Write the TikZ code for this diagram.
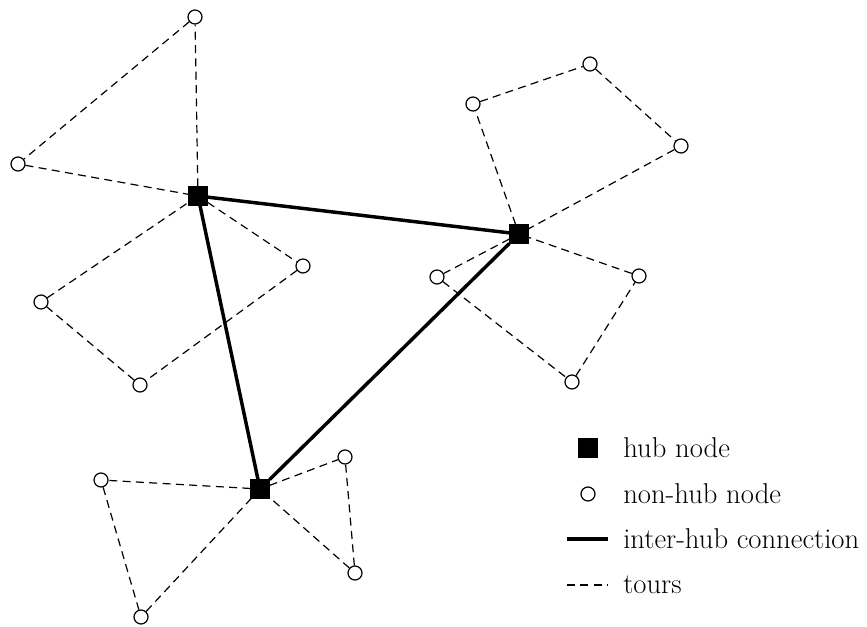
\documentclass[tikz,border=0pt]{standalone}
\usepackage{fontspec}
\setmainfont{Latin Modern Roman}
\begin{document}
\begin{tikzpicture}[x=0.75pt,y=-0.75pt,
  hub/.style={rectangle,fill=black,draw=black,minimum size=14pt,inner sep=0pt},
  nh/.style={circle,fill=white,draw=black,line width=0.9pt,minimum size=10.5pt,inner sep=0pt},
  tour/.style={dashed,dash pattern=on 6pt off 4pt,line width=0.9pt},
  inter/.style={line width=2.6pt},
  lbl/.style={anchor=west,font=\fontsize{21.5}{24}\selectfont,inner sep=0pt}]
\useasboundingbox (0,0) rectangle (867,627);
% hubs
\node[hub] (H1) at (198,196) {};
\node[hub] (H2) at (519,234) {};
\node[hub] (H3) at (260,489) {};
% non-hub nodes
\node[nh] (a1) at (195,17) {};
\node[nh] (a2) at (18,164) {};
\node[nh] (b1) at (303,266) {};
\node[nh] (b2) at (140,385) {};
\node[nh] (b3) at (41,302) {};
\node[nh] (c1) at (473,104) {};
\node[nh] (c2) at (590,64) {};
\node[nh] (c3) at (681,146) {};
\node[nh] (d1) at (437,277) {};
\node[nh] (d2) at (572,382) {};
\node[nh] (d3) at (639,276) {};
\node[nh] (e1) at (345,457) {};
\node[nh] (e2) at (355,573) {};
\node[nh] (f1) at (101,480) {};
\node[nh] (f2) at (141,617) {};
% tours
\draw[tour] (H1) -- (a1) -- (a2) -- (H1);
\draw[tour] (H1) -- (b1) -- (b2) -- (b3) -- (H1);
\draw[tour] (H2) -- (c1) -- (c2) -- (c3) -- (H2);
\draw[tour] (H2) -- (d1) -- (d2) -- (d3) -- (H2);
\draw[tour] (H3) -- (e1) -- (e2) -- (H3);
\draw[tour] (H3) -- (f1) -- (f2) -- (H3);
% inter-hub
\draw[inter] (H1) -- (H2) -- (H3) -- (H1);
% legend
\node[hub] (L1) at (588,448) {};
\node[lbl] (T1) at (623,448) {hub node};
\node[nh] (L2) at (588,494) {};
\node[lbl] (T2) at (623,494) {non-hub node};
\coordinate (L3a) at (567,539);
\coordinate (L3b) at (608,539);
\draw[inter] (L3a) -- (L3b);
\node[lbl] (T3) at (623,539) {inter-hub connection};
\coordinate (L4a) at (567,585);
\coordinate (L4b) at (608,585);
\draw[tour] (L4a) -- (L4b);
\node[lbl] (T4) at (623,585) {tours};
\end{tikzpicture}
\end{document}
